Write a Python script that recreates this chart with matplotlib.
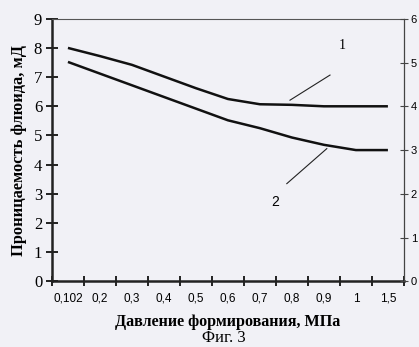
import matplotlib

matplotlib.use("Agg")
import matplotlib.pyplot as plt  # noqa: E402
import numpy as np  # noqa: E402

# pressure categories (MPa) and permeability (mD) for both curves
pressure_labels = ["0,102", "0,2", "0,3", "0,4", "0,5", "0,6", "0,7", "0,8", "0,9", "1", "1,5"]
curve_1 = [8.0, 7.72, 7.42, 7.02, 6.62, 6.25, 6.07, 6.05, 6.0, 6.0, 6.0]
curve_2 = [7.52, 7.12, 6.72, 6.32, 5.92, 5.52, 5.25, 4.93, 4.68, 4.5, 4.5]
left_ticks = list(range(0, 10))
right_ticks = list(range(0, 7))

SERIF = "Liberation Serif"
SANS = "Liberation Sans"
BG = "#f1f1f6"

fig = plt.figure(figsize=(4.19, 3.47), dpi=100, facecolor=BG)
ax = fig.add_axes([0.124, 0.189, 0.840, 0.757])
ax.set_facecolor(BG)

x = np.arange(len(pressure_labels))
ax.plot(x, curve_1, color="#111111", lw=1.8, solid_capstyle="butt")
ax.plot(x, curve_2, color="#111111", lw=1.8, solid_capstyle="butt")

ax.set_xlim(-0.5, len(pressure_labels) - 0.5)
ax.set_ylim(0, 9)

# category axis: ticks sit between categories, labels at centres
ax.set_xticks(np.arange(-0.5, len(pressure_labels)), minor=False)
ax.set_xticklabels([])
ax.set_xticks(x, minor=True)
ax.set_xticklabels(pressure_labels, minor=True, fontfamily=SANS, fontsize=8.5)
ax.tick_params(axis="x", which="major", direction="inout", length=7, width=1.4, color="#222222")
ax.tick_params(axis="x", which="minor", length=0, pad=8)

ax.set_yticks(left_ticks)
ax.set_yticklabels([str(v) for v in left_ticks], fontfamily=SERIF, fontsize=12)
ax.tick_params(axis="y", direction="inout", length=8, width=1.4, color="#222222", pad=3)

for side in ("left", "bottom"):
    ax.spines[side].set_linewidth(1.8)
    ax.spines[side].set_color("#222222")
ax.spines["top"].set_linewidth(0.8)
ax.spines["top"].set_color("#555555")
ax.spines["right"].set_visible(False)

ax2 = ax.twinx()
ax2.set_ylim(0, 6)
ax2.set_yticks(right_ticks)
ax2.set_yticklabels([str(v) for v in right_ticks], fontfamily=SANS, fontsize=8)
ax2.tick_params(axis="y", direction="inout", length=6, width=0.8, color="#444444", pad=2)
for side in ("left", "top", "bottom"):
    ax2.spines[side].set_visible(False)
ax2.spines["right"].set_linewidth(0.9)
ax2.spines["right"].set_color("#444444")

ax.set_ylabel("Проницаемость флюида, мД", fontfamily=SERIF, fontsize=11.8,
              fontweight="bold", labelpad=5)
ax.set_xlabel("Давление формирования, МПа", fontfamily=SERIF, fontsize=11.6,
              fontweight="bold", labelpad=7)
fig.text(0.535, 0.026, "Фиг. 3", fontfamily=SERIF, fontsize=12, ha="center", va="center")

# curve labels with leader lines
ax.plot([6.94, 8.19], [6.21, 7.07], color="#222222", lw=0.8)
ax.text(8.56, 8.1, "1", fontfamily=SERIF, fontsize=10, ha="center", va="center")
ax.plot([6.84, 8.09], [3.35, 4.55], color="#222222", lw=0.8)
ax.text(6.47, 2.71, "2", fontfamily=SANS, fontsize=10, ha="center", va="center")

fig.savefig("out.png", dpi=100, facecolor=BG)
